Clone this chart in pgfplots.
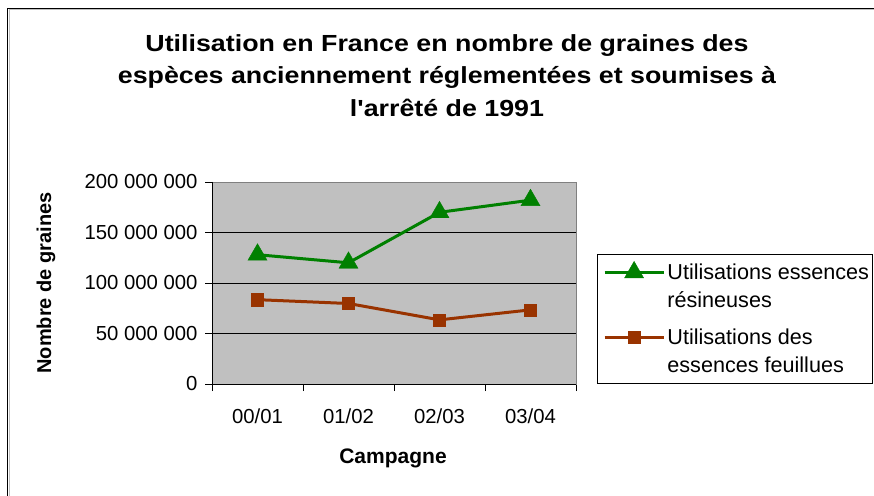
\documentclass[border=0pt]{standalone}
\usepackage{fontspec}
\setmainfont{Liberation Sans}
\newfontfamily\titlefont[FakeStretch=1.15]{Liberation Sans}
\usepackage{pgfplots}
\pgfplotsset{compat=1.18}
\definecolor{xlgreen}{HTML}{008000}
\definecolor{xlbrown}{HTML}{993300}
\definecolor{xlgray}{HTML}{C0C0C0}
\begin{document}
\begin{tikzpicture}[x=1pt,y=1pt]
\useasboundingbox (0,0) rectangle (874,495);
\fill[white] (0,0) rectangle (874,495);
\draw[line width=1.3pt] (7.5,-2) -- (7.5,486.5) -- (880,486.5);
\draw[gray!50, line width=0.8pt] (8.9,-2) -- (8.9,485.1) -- (880,485.1);
\node[font=\titlefont\bfseries\fontsize{23.3}{32.5}\selectfont, align=center, anchor=north, inner sep=0pt] at (447,461)
 {Utilisation en France en nombre de graines des\\espèces anciennement réglementées et soumises à\\l'arrêté de 1991};
\node[rotate=90, font=\bfseries\fontsize{20}{24}\selectfont, inner sep=0pt] at (46,212) {Nombre de graines};
\node[font=\bfseries\fontsize{21}{24}\selectfont, inner sep=0pt] at (393,37) {Campagne};
\begin{axis}[
 at={(212pt,111pt)}, anchor=south west,
 scale only axis, width=364pt, height=202pt,
 xmin=-0.5, xmax=3.5, ymin=0, ymax=200000000,
 scaled y ticks=false,
 xtick={-0.5,0.5,1.5,2.5,3.5},
 x tick label as interval,
 xticklabels={00/01,01/02,02/03,03/04},
 ytick={0,50000000,100000000,150000000,200000000},
 yticklabels={0,50 000 000,100 000 000,150 000 000,200 000 000},
 /pgf/number format/assume math mode=true,
 axis background/.style={fill=xlgray},
 ymajorgrids, grid style={black, line width=0.8pt},
 axis line style={draw=gray, line width=0.8pt},
 tick align=outside, xtick pos=bottom, ytick pos=left,
 major tick length=7pt, tick style={black, line width=0.8pt},
 tick label style={font=\fontsize{20.3}{24}\selectfont},
 xticklabel style={yshift=-14pt},
 yticklabel style={xshift=-4pt},
 legend style={at={(1.0577,0.6436)}, anchor=north west, draw=black, line width=0.8pt,
   font=\fontsize{21.6}{28.5}\selectfont, cells={anchor=base west}, row sep=0pt, column sep=0pt,
   nodes={inner ysep=0pt, inner xsep=2.3pt, text height=21.5pt, text depth=7pt},
   inner xsep=1.2pt, inner ysep=3.5pt},
 legend image code/.code={\path (0pt,0pt); \draw[mark repeat=2,mark phase=2,#1, yshift=7pt] plot coordinates {(4.5pt,0pt) (34pt,0pt) (63.5pt,0pt)};},
 after end axis/.code={\draw[black, line width=1pt] (rel axis cs:0,1) -- (rel axis cs:0,0) -- (rel axis cs:1,0);},
]
\addplot[xlgreen, line width=3pt, mark=triangle*, mark size=11pt, mark options={line width=0.4pt}]
 coordinates {(0,128000000) (1,120000000) (2,170000000) (3,182000000)};
\addlegendentry{Utilisations essences}
\addlegendimage{empty legend}
\addlegendentry{résineuses}
\addplot[xlbrown, line width=3pt, mark=square*, mark size=6.1pt, mark options={line width=0.4pt}]
 coordinates {(0,83500000) (1,79700000) (2,63500000) (3,73400000)};
\addlegendentry[text height=29.5pt]{Utilisations des}
\addlegendimage{empty legend}
\addlegendentry{essences feuillues}
\end{axis}
\end{tikzpicture}
\end{document}
